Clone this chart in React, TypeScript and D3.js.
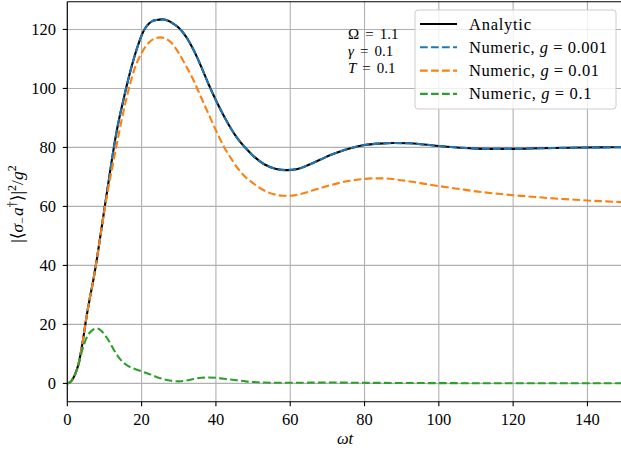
import React from "react";
import * as d3 from "d3";

const tAnalytic = [0, 1, 2, 3, 4, 5, 6, 7, 8, 9, 10, 11, 12, 13, 14, 15, 16, 17, 18, 19, 20, 21, 22, 23, 24, 25.5, 27, 28.5, 30, 32, 34, 36, 38, 40, 42, 44, 46, 48, 50, 53, 56, 59, 62, 65, 68, 71, 74, 77, 80, 84, 88, 92, 96, 100, 105, 110, 115, 120, 127, 135, 143, 150];
const analytic = [0, 0.7, 2.8, 6.5, 13, 21.2, 28.5, 35, 42.5, 50.8, 59.2, 67.5, 75.8, 83.5, 90, 95.5, 101, 106, 110.5, 114.5, 118, 120.5, 122, 122.9, 123.2, 123.4, 123, 122, 120.6, 117.5, 113, 107.5, 101.5, 96, 91, 86.5, 82.7, 79.8, 77.2, 74.3, 72.8, 72.3, 72.7, 74.1, 75.8, 77.5, 78.9, 80, 80.8, 81.3, 81.5, 81.4, 81, 80.5, 80, 79.6, 79.5, 79.5, 79.7, 79.9, 80, 80.1];

const tNum001 = tAnalytic;
const numeric001 = [0, 0.7, 2.8, 6.5, 13, 21.2, 28.5, 35, 42.5, 50.8, 59.2, 67.5, 75.8, 83.5, 90, 95.5, 101, 106, 110.5, 114.5, 118, 120.5, 122, 122.9, 123.2, 123.4, 123, 122, 120.6, 117.5, 113, 107.5, 101.5, 96, 91, 86.5, 82.7, 79.8, 77.2, 74.3, 72.8, 72.3, 72.7, 74.1, 75.8, 77.5, 78.9, 80, 80.8, 81.3, 81.5, 81.4, 81, 80.5, 80, 79.6, 79.5, 79.5, 79.7, 79.9, 80, 80.1];

const tNum01 = [0, 1, 2, 3, 4, 5, 6, 7, 8, 9, 10, 11, 12, 13, 14, 15, 16, 17, 18, 20, 22, 24, 25, 26, 28, 30, 32, 34, 36, 38, 40, 42, 44, 46, 48, 50, 52, 54, 56, 58, 60, 62, 64.5, 67, 70, 73, 76, 79, 82, 85, 88, 91, 95, 100, 105, 110, 115, 120, 125, 130, 135, 140, 145, 150];
const numeric01 = [0, 0.7, 2.8, 6.5, 13, 21.2, 28.5, 35, 42.5, 50.5, 58.5, 66, 72.5, 79, 85.5, 91.5, 97, 102, 106.3, 112, 115.6, 117.1, 117.3, 117.1, 115.5, 112, 107.5, 102.7, 97, 91.4, 85.8, 80.6, 76.4, 72.7, 69.9, 67.9, 66.1, 64.8, 64, 63.6, 63.6, 64, 64.8, 65.8, 66.9, 67.9, 68.7, 69.2, 69.5, 69.5, 69.2, 68.7, 67.9, 66.9, 66, 65.1, 64.4, 63.8, 63.3, 62.8, 62.4, 62, 61.7, 61.4];

const tNum1 = [0, 1, 2, 3, 4, 5, 6, 7, 8, 9, 10, 11, 12, 13, 14, 15, 16, 17, 18, 20, 22, 24, 26, 28, 30, 32, 34, 36, 38, 40, 42, 44, 46, 48, 50, 53, 56, 60, 65, 70, 80, 90, 100, 120, 150];
const numeric1 = [0, 0.7, 2.8, 6.3, 11.2, 14.9, 17.1, 18.3, 18.6, 18, 16.6, 14.8, 12.6, 10.4, 8.6, 7.2, 6.2, 5.5, 5, 4.1, 3.2, 2.2, 1.4, 0.9, 0.7, 1.0, 1.5, 1.9, 2.0, 1.9, 1.6, 1.3, 1.0, 0.7, 0.5, 0.3, 0.2, 0.2, 0.25, 0.3, 0.2, 0.15, 0.1, 0.05, 0.05];

const xTicks = [0, 20, 40, 60, 80, 100, 120, 140];
const yTicks = [0, 20, 40, 60, 80, 100, 120];

const FONT = "'Liberation Serif', 'DejaVu Serif', serif";
const FS = 16.5;
const MS = 4.6; // math thick space

export default function App() {
  const x = d3.scaleLinear().domain([0, 150]).range([67.3, 624.6]);
  const y = d3.scaleLinear().domain([-6.2, 129.4]).range([401.7, 1.7]);

  const mk = (ts: number[], vs: number[]) =>
    d3
      .line<number>()
      .x((_, i) => x(ts[i]))
      .y((v) => y(v))
      .curve(d3.curveMonotoneX)(vs) as string;

  const series = [
    { label: "Analytic", t: tAnalytic, v: analytic, color: "#000000", dash: "", w: 62 },
    { label: "0.001", t: tNum001, v: numeric001, color: "#1f77b4", dash: "7.7,3.3", w: 138 },
    { label: "0.01", t: tNum01, v: numeric01, color: "#ff7f0e", dash: "7.7,3.3", w: 130 },
    { label: "0.1", t: tNum1, v: numeric1, color: "#2ca02c", dash: "7.7,3.3", w: 122.5 },
  ];

  const left = 67.3;
  const right = 624.6;
  const top = 1.7;
  const bottom = 401.7;

  const annot = [
    { sym: "Ω", italic: false, val: "1.1", y: 39 },
    { sym: "γ", italic: true, val: "0.1", y: 56 },
    { sym: "T", italic: true, val: "0.1", y: 73 },
  ];

  return (
    <svg
      width={621}
      height={452}
      style={{ position: "absolute", left: 0, top: 0, background: "#fff" }}
      fontFamily={FONT}
    >
      <defs>
        <clipPath id="plotclip">
          <rect x={left} y={top} width={right - left} height={bottom - top} />
        </clipPath>
      </defs>
      <rect x={0} y={0} width={621} height={452} fill="#fff" />
      {xTicks.map((t) => (
        <line key={"gx" + t} x1={x(t)} x2={x(t)} y1={top} y2={bottom} stroke="#b0b0b0" strokeWidth={1.1} />
      ))}
      {yTicks.map((t) => (
        <line key={"gy" + t} x1={left} x2={right} y1={y(t)} y2={y(t)} stroke="#b0b0b0" strokeWidth={1.1} />
      ))}
      <g clipPath="url(#plotclip)">
        {series.map((s) => (
          <path
            key={s.label}
            d={mk(s.t, s.v)}
            fill="none"
            stroke={s.color}
            strokeWidth={2.1}
            strokeDasharray={s.dash || undefined}
          />
        ))}
      </g>
      <line x1={left} x2={left} y1={top} y2={bottom} stroke="#000" strokeWidth={1.1} />
      <line x1={left} x2={right} y1={bottom} y2={bottom} stroke="#000" strokeWidth={1.1} />
      <line x1={left} x2={right} y1={top} y2={top} stroke="#000" strokeWidth={1.1} />
      {xTicks.map((t) => (
        <g key={"xt" + t}>
          <line x1={x(t)} x2={x(t)} y1={bottom} y2={bottom + 4.5} stroke="#000" strokeWidth={1.1} />
          <text x={x(t)} y={424.5} textAnchor="middle" fontSize={FS}>
            {t}
          </text>
        </g>
      ))}
      {yTicks.map((t) => (
        <g key={"yt" + t}>
          <line x1={left - 4.5} x2={left} y1={y(t)} y2={y(t)} stroke="#000" strokeWidth={1.1} />
          <text x={56} y={y(t) + 5.5} textAnchor="end" fontSize={FS}>
            {t}
          </text>
        </g>
      ))}
      <text x={345} y={444} textAnchor="middle" fontSize={FS} fontStyle="italic">
        ωt
      </text>
      <text transform="translate(23,204) rotate(-90)" textAnchor="middle" fontSize={17.5}>
        <tspan>|⟨</tspan>
        <tspan fontStyle="italic">σ</tspan>
        <tspan fontSize={12} dy={3}>−</tspan>
        <tspan fontStyle="italic" dy={-3} dx={1}>a</tspan>
        <tspan fontSize={12} dy={-7}>†</tspan>
        <tspan dy={7}>⟩|</tspan>
        <tspan fontSize={12} dy={-7}>2</tspan>
        <tspan dy={7}>/</tspan>
        <tspan fontStyle="italic">g</tspan>
        <tspan fontSize={12} dy={-7}>2</tspan>
      </text>
      {annot.map((a) => (
        <text key={a.sym} x={348} y={a.y} fontSize={15}>
          <tspan fontStyle={a.italic ? "italic" : "normal"}>{a.sym}</tspan>
          <tspan dx={6}>=</tspan>
          <tspan dx={6}>{a.val}</tspan>
        </text>
      ))}
      <rect x={415} y={10} width={201} height={99} rx={3} fill="#fff" fillOpacity={0.8} stroke="#cccccc" strokeWidth={1} />
      {series.map((s, i) => {
        const ly = 24 + i * 23.3;
        return (
          <g key={"lg" + s.label}>
            <line x1={420} x2={457} y1={ly} y2={ly} stroke={s.color} strokeWidth={2.1} strokeDasharray={s.dash || undefined} />
            {i === 0 ? (
              <text x={469} y={ly + 5.5} fontSize={FS} textLength={s.w} lengthAdjust="spacing">
                Analytic
              </text>
            ) : (
              <text x={469} y={ly + 5.5} fontSize={FS} textLength={s.w} lengthAdjust="spacing">
                <tspan>Numeric, </tspan>
                <tspan fontStyle="italic">g</tspan>
                <tspan dx={MS}>=</tspan>
                <tspan dx={MS}>{s.label}</tspan>
              </text>
            )}
          </g>
        );
      })}
    </svg>
  );
}
